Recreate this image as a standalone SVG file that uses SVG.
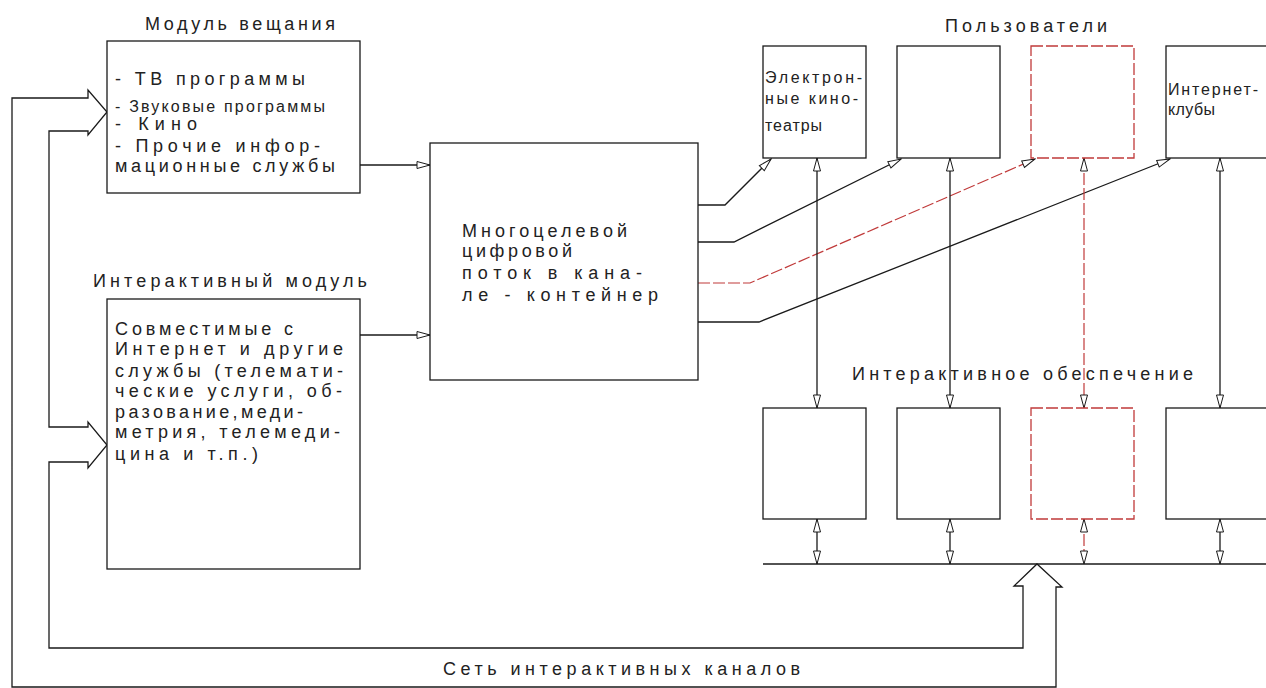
<svg xmlns="http://www.w3.org/2000/svg" width="1266" height="688" viewBox="0 0 1266 688">
<defs>
<style>
.bx{fill:#fff;stroke:#1a1a1a;stroke-width:1.3}
.rbx{fill:#fff;stroke:#c03a3a;stroke-width:1.3;stroke-dasharray:12 3}
.ln{fill:none;stroke:#1a1a1a;stroke-width:1.3}
.rln{fill:none;stroke:#c03a3a;stroke-width:1.2;stroke-dasharray:12 3}
.t{font-family:"Liberation Sans","DejaVu Sans",sans-serif;font-size:18px;fill:#222}
.s{font-size:16px}
</style>
<marker id="ah" viewBox="-1 -5 15 10" refX="13" refY="0" markerWidth="15" markerHeight="10" markerUnits="userSpaceOnUse" orient="auto-start-reverse">
<path d="M0,-3.5 L13,0 L0,3.5 Z" fill="#fff" stroke="#1a1a1a" stroke-width="1"/>
</marker>
</defs>
<rect width="1266" height="688" fill="#fff"/>

<g id="connectors">
<path class="ln" d="M1056,587 V687 H12 V98 H88 V90 L107,112 L88,135 V131 H49 V427 H88 V422 L107,445 L88,468 V462 H49 V648 H1023 V586 L1014,586 L1037,564 L1062,587 Z"/>
<path class="ln" d="M360,165 H430" marker-end="url(#ah)"/>
<path class="ln" d="M360,335 H430" marker-end="url(#ah)"/>
<path class="ln" d="M698,205 H725 L771,159" marker-end="url(#ah)"/>
<path class="ln" d="M698,242 H734 L901,159" marker-end="url(#ah)"/>
<path class="rln" d="M698,283 H750 L1035,159" marker-end="url(#ah)"/>
<path class="ln" d="M698,322 H759 L1170,159" marker-end="url(#ah)"/>
<path class="ln" d="M817,158 V408" marker-start="url(#ah)" marker-end="url(#ah)"/>
<path class="ln" d="M950,158 V408" marker-start="url(#ah)" marker-end="url(#ah)"/>
<path class="rln" d="M1084,158 V408" marker-start="url(#ah)" marker-end="url(#ah)"/>
<path class="ln" d="M1220,158 V408" marker-start="url(#ah)" marker-end="url(#ah)"/>
<path class="ln" d="M817,519 V564" marker-start="url(#ah)" marker-end="url(#ah)"/>
<path class="ln" d="M950,519 V564" marker-start="url(#ah)" marker-end="url(#ah)"/>
<path class="rln" d="M1084,519 V564" marker-start="url(#ah)" marker-end="url(#ah)"/>
<path class="ln" d="M1220,519 V564" marker-start="url(#ah)" marker-end="url(#ah)"/>
</g>

<g id="broadcast-module">
<text class="t" x="145" y="30" textLength="190">Модуль вещания</text>
<rect class="bx" x="107" y="41" width="253" height="152"/>
<text class="t" x="115" y="85" textLength="190">- ТВ программы</text>
<text class="t s" x="115" y="112" textLength="210">- Звуковые программы</text>
<text class="t" x="115" y="130" textLength="82">- Кино</text>
<text class="t" x="115" y="152" textLength="205">- Прочие инфор-</text>
<text class="t" x="115" y="172" textLength="220">мационные службы</text>
</g>

<g id="interactive-module">
<text class="t" x="93" y="287" textLength="274">Интерактивный модуль</text>
<rect class="bx" x="107" y="299" width="253" height="270"/>
<text class="t" x="115" y="335" textLength="178">Совместимые с</text>
<text class="t" x="115" y="355" textLength="228">Интернет и другие</text>
<text class="t" x="115" y="377" textLength="228">службы (телемати-</text>
<text class="t" x="115" y="397" textLength="227">ческие услуги, об-</text>
<text class="t" x="115" y="418" textLength="188">разование,меди-</text>
<text class="t" x="115" y="438" textLength="225">метрия, телемеди-</text>
<text class="t" x="115" y="460" textLength="143">цина и т.п.)</text>
</g>

<g id="container">
<rect class="bx" x="430" y="143" width="268" height="237"/>
<text class="t" x="462" y="237" textLength="165">Многоцелевой</text>
<text class="t" x="462" y="257" textLength="110">цифровой</text>
<text class="t" x="462" y="279" textLength="180">поток в кана-</text>
<text class="t" x="462" y="301" textLength="196">ле - контейнер</text>
</g>

<g id="users-label">
<text class="t" x="945" y="32" textLength="162">Пользователи</text>
</g>
<g id="user-1">
<rect class="bx" x="763" y="46" width="103" height="112"/>
<text class="t s" x="765" y="83" textLength="97">Электрон-</text>
<text class="t s" x="765" y="104" textLength="93">ные кино-</text>
<text class="t s" x="765" y="131" textLength="57">театры</text>
</g>
<g id="user-2"><rect class="bx" x="897" y="46" width="103" height="112"/></g>
<g id="user-3"><rect class="rbx" x="1031" y="46" width="103" height="112"/></g>
<g id="user-4">
<rect class="bx" x="1166" y="46" width="103" height="112"/>
<text class="t s" x="1168" y="95" textLength="90">Интернет-</text>
<text class="t s" x="1168" y="115" textLength="47">клубы</text>
</g>

<g id="support-label">
<text class="t" x="852" y="380" textLength="341">Интерактивное обеспечение</text>
</g>
<g id="support-1"><rect class="bx" x="763" y="408" width="103" height="111"/></g>
<g id="support-2"><rect class="bx" x="897" y="408" width="103" height="111"/></g>
<g id="support-3"><rect class="rbx" x="1031" y="408" width="103" height="111"/></g>
<g id="support-4"><rect class="bx" x="1166" y="408" width="103" height="111"/></g>

<g id="bus">
<path class="ln" d="M763,564 H1266"/>
</g>

<g id="network-label">
<text class="t" x="443" y="675" textLength="357">Сеть интерактивных каналов</text>
</g>
</svg>
